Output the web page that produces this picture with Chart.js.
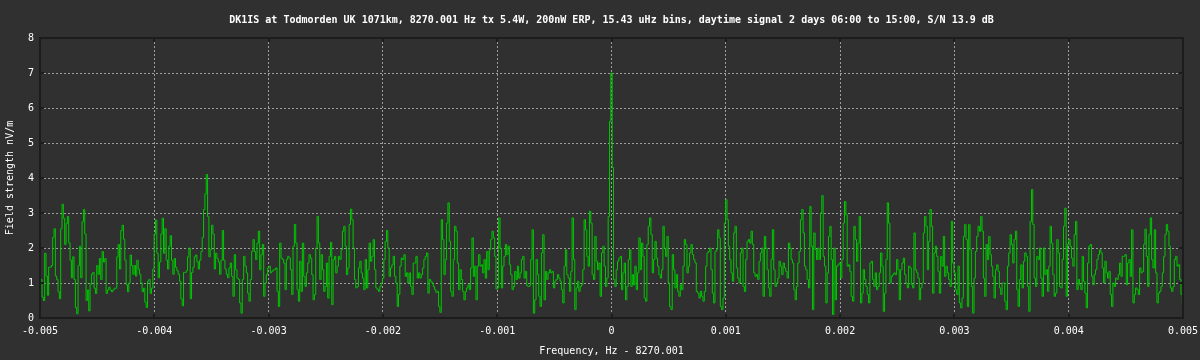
<!DOCTYPE html>
<html>
<head>
<meta charset="utf-8">
<style>
html,body{margin:0;padding:0;background:#303030;}
#wrap{width:1200px;height:360px;}
</style>
<script src="https://cdn.jsdelivr.net/npm/chart.js@4/dist/chart.umd.min.js"></script>
</head>
<body>
<div id="wrap"><canvas id="c" width="1200" height="360"></canvas></div>
<script>
const titleText = "DK1IS at Todmorden UK 1071km, 8270.001 Hz tx 5.4W, 200nW ERP, 15.43 uHz bins, daytime signal 2 days 06:00 to 15:00, S/N 13.9 dB";
const xAxisTitle = "Frequency, Hz - 8270.001";
const yAxisTitle = "Field strength nV/m";

const xTicks = [-0.005,-0.004,-0.003,-0.002,-0.001,0,0.001,0.002,0.003,0.004,0.005];
const xTickLabels = ["-0.005","-0.004","-0.003","-0.002","-0.001","0","0.001","0.002","0.003","0.004","0.005"];
const yTicks = [0,1,2,3,4,5,6,7,8];
const yTickLabels = ["0","1","2","3","4","5","6","7","8"];

const freqStart = -0.005;
const freqEnd = 0.005;

// field strength, nV/m, read left to right across the band
const fieldSeg1 = [
1.0,1.1,0.6,0.5,1.85,1.2,0.65,1.45,1.45,1.5,
2.3,2.55,1.2,1.1,0.75,0.55,2.55,3.25,2.85,2.1,
2.7,2.9,2.15,1.65,1.15,1.75,1.1,0.3,0.12,1.5,
2.05,1.15,2.75,3.1,2.4,0.5,0.8,0.2,0.95,1.25,
1.3,0.85,0.7,1.5,1.25,1.7,1.1,1.9,1.6,1.7,
0.7,0.8,0.88,0.8,0.75,0.8,0.85,0.85,1.75,2.1,
1.4,2.5,2.65,2.25,1.65,0.95,0.75,1.0,1.8,1.5,
1.25,1.5,1.2,1.65,1.4,1.25,1.0,0.75,0.85,0.45,
0.3,1.05,1.1,0.7,0.85,1.4,2.4,2.8,1.85,1.15,
1.6,2.4,2.85,1.85,2.55,1.65,1.4,2.05,2.35,1.65,
1.25,1.7,1.45,1.35,1.25,1.05,0.55,0.35,1.3,1.3,
1.35,1.75,2.0,0.55,1.3,1.45,1.75,1.8,1.6,1.4,
1.65,1.9,2.3,3.1,3.55,4.1,2.9,1.75,1.95,2.65,
2.4,1.4,1.85,1.7,1.6,1.25,1.65,2.5,1.65,1.4,
1.25,1.15];
const fieldSeg2 = [
1.43,1.57,1.19,0.62,1.81,1.38,1.14,1.1,0.43,0.14,
1.1,1.76,1.48,1.29,0.71,0.48,1.1,1.9,2.24,1.9,
1.67,2.14,2.48,1.38,1.81,2.1,0.62,1.0,1.24,1.43,
1.48,1.29,1.33,1.38,1.38,1.43,0.76,0.33,2.14,1.71,
1.67,1.57,0.81,1.67,1.76,1.71,1.38,0.67,2.05,2.67,
2.14,0.81,0.48,1.62,0.76,2.14,1.19,0.9,1.29,1.57,
1.81,1.71,1.24,0.52,0.67,2.0,2.9,2.14,1.1,1.81,
1.38,0.76,0.9,1.57,0.57,1.76,2.16,0.38,1.67,1.76,
1.29,1.48,1.76,1.67,1.95,2.48,2.62,2.05,1.24,1.43,
2.67,3.11,2.81,2.0,1.1,0.86,0.9,1.43,1.62,1.29,
1.14,0.81,1.67,0.86,1.38,2.14,1.62,1.76,2.24,1.38,
0.86,0.81,0.76,0.9,1.0,1.14,1.67,2.19,2.5,2.0,
1.19,1.43,1.52,1.76,1.19,1.0,0.33,0.67,1.48,1.71,
1.67,1.81,1.19,1.29,1.0,1.29,0.9,0.67,1.57,1.57,
1.76,1.14];
const fieldSeg3 = [
1.29,1.14,1.24,1.43,1.67,1.76,1.86,0.71,1.1,1.05,
1.0,0.9,0.81,0.73,0.76,0.33,0.16,2.81,2.24,1.24,
1.67,2.71,3.29,2.19,0.76,0.62,1.67,2.62,2.48,1.57,
0.81,1.38,1.1,0.76,0.52,0.76,0.86,0.95,0.81,1.43,
2.29,1.19,1.48,0.52,1.48,1.81,1.48,1.52,1.29,1.67,
1.14,1.9,1.38,1.95,2.24,2.48,2.29,1.76,0.83,0.86,
2.86,2.0,0.86,1.48,1.76,2.1,1.81,2.05,1.52,1.24,
0.81,0.9,1.33,1.1,1.48,1.14,1.29,1.67,1.76,1.14,
1.33,0.92,0.9,0.92,1.67,2.52,0.14,0.52,1.67,1.24,
0.62,0.33,1.86,2.38,0.52,1.33,1.1,1.29,1.38,1.29,
1.33,0.86,1.05,1.1,1.24,1.14,1.05,0.81,0.43,1.48,
1.95,1.24,1.14,0.76,1.33,2.86,1.67,0.24,0.86,1.05,
0.76,0.9,0.95,1.38,2.81,2.52,1.76,1.48,3.05,2.71,
1.24,1.1,2.33,1.62,1.38,1.57,0.62,1.86,2.05,1.48,
0.9,1.14];
const fieldSeg4 = [
2.9,5.62,7.0,4.3,1.1,0.9,1.38,1.62,1.71,1.76,
0.81,1.29,1.57,0.52,0.9,1.67,1.95,0.9,1.24,0.95,
1.48,0.81,1.29,2.29,1.38,2.14,1.76,0.57,0.48,2.1,
2.62,2.86,2.38,1.29,1.67,2.19,1.71,1.48,1.24,1.14,
1.38,2.62,2.0,1.76,2.33,1.0,0.33,0.24,1.81,1.38,
0.86,1.24,0.76,0.62,0.95,0.81,1.48,2.24,2.1,1.29,
1.48,1.86,2.1,1.81,1.67,1.57,0.76,0.71,0.57,0.76,
0.62,0.48,0.76,1.48,1.86,1.9,2.0,1.38,0.71,0.43,
1.9,1.95,2.52,2.29,0.33,0.24,0.57,2.71,3.38,2.81,
2.05,1.67,1.29,1.05,2.43,2.62,1.43,1.14,1.0,1.86,
2.0,0.9,0.76,1.67,2.19,2.24,2.14,2.48,2.1,1.29,
1.19,1.24,1.1,1.62,1.86,2.0,0.62,2.33,2.0,1.38,
0.86,0.62,1.67,2.52,1.38,0.9,1.0,1.14,1.62,1.48,
1.24,1.57,1.43,1.33,1.14,2.14,2.0,1.67,1.57,0.81,
0.52,0.9];
const fieldSeg5 = [
1.57,1.9,2.81,3.1,2.43,1.48,1.38,1.1,0.86,3.19,
2.05,0.24,2.43,1.95,1.67,2.0,1.67,3.0,3.5,1.76,
1.48,0.43,1.29,2.33,2.62,1.67,0.1,2.0,0.52,1.48,
1.52,1.57,1.14,1.67,2.71,3.33,2.95,1.48,1.52,1.33,
0.62,0.48,2.62,2.24,1.62,2.14,2.9,0.43,0.71,1.38,
1.1,0.9,0.67,0.43,1.57,1.62,1.1,0.9,1.29,0.81,
0.9,1.29,1.86,1.48,0.19,0.71,1.67,3.29,2.71,1.0,
1.19,1.24,1.29,1.24,1.67,1.38,0.52,1.38,1.57,1.71,
1.24,1.0,0.86,1.48,1.43,0.95,0.86,2.43,1.38,1.29,
1.14,0.52,0.86,1.0,2.43,2.9,2.62,1.38,2.19,3.1,
2.62,0.71,1.86,2.05,1.76,1.33,0.71,1.76,1.48,2.33,
1.19,1.48,1.29,1.1,0.9,2.76,1.57,1.29,0.81,0.67,
1.48,0.43,0.29,0.57,2.33,2.67,2.24,0.33,2.67,1.95,
0.9,0.14,1.14,1.9,2.33,2.62,2.48,2.9,2.48,1.14,
0.62,2.1,1.67];
const fieldSeg6 = [
2.33,1.81,1.48,1.19,0.57,1.38,1.52,1.33,0.86,0.67,
1.0,1.0,0.48,0.24,1.48,1.86,2.38,2.1,1.57,2.24,
2.48,0.81,0.33,1.1,1.52,0.86,1.62,1.86,1.76,0.9,
0.19,2.76,3.67,2.67,1.14,0.9,1.76,1.67,2.0,1.14,
0.62,2.0,1.24,1.38,0.76,1.48,2.62,2.14,1.24,0.62,
0.71,2.24,1.86,0.9,0.86,1.67,2.62,3.14,0.62,2.1,
2.24,2.05,1.71,1.48,2.38,2.76,0.81,1.1,0.95,0.81,
1.76,1.05,0.71,0.29,1.57,2.05,2.1,1.19,0.95,1.24,
1.38,1.67,1.81,1.95,1.86,1.43,1.0,1.62,1.29,1.14,
1.33,0.67,0.33,1.0,0.9,1.14,1.1,1.24,1.57,1.19,
1.76,1.76,1.81,0.95,1.57,1.67,1.19,2.52,0.43,0.67,
0.86,0.81,0.67,1.43,1.29,1.33,2.1,2.54,1.76,0.9,
2.38,2.86,1.67,1.43,2.52,1.29,0.43,0.71,0.76,0.9,
1.29,1.76,2.38,2.67,2.48,2.05,0.86,0.76,0.9,1.67,
1.76,1.48,1.52,1.1,0.67,0.43];

const fieldStrength = [].concat(fieldSeg1, fieldSeg2, fieldSeg3, fieldSeg4, fieldSeg5, fieldSeg6);
const freqStep = (freqEnd - freqStart) / (fieldStrength.length - 1);
const points = fieldStrength.map((v, i) => ({x: freqStart + i * freqStep, y: v}));

const FONT = {family: "'DejaVu Sans Mono', 'Liberation Mono', monospace", size: 10};
const TEXT = '#ffffff';
const GRID = '#9e9e9e';
const FRAME = '#1c1c1c';

const bgPlugin = {
  id: 'bg',
  beforeDraw(chart) {
    const ctx = chart.ctx;
    ctx.save();
    ctx.fillStyle = '#303030';
    ctx.fillRect(0, 0, chart.width, chart.height);
    ctx.restore();
  }
};
const framePlugin = {
  id: 'frame',
  afterDraw(chart) {
    const {ctx, chartArea: a, scales} = chart;
    ctx.save();
    ctx.strokeStyle = FRAME;
    ctx.lineWidth = 2;
    ctx.beginPath();
    xTicks.forEach(v => {
      const px = Math.round(scales.x.getPixelForValue(v));
      ctx.moveTo(px, a.bottom); ctx.lineTo(px, a.bottom - 4);
      ctx.moveTo(px, a.top); ctx.lineTo(px, a.top + 4);
    });
    yTicks.forEach(v => {
      const py = Math.round(scales.y.getPixelForValue(v));
      ctx.moveTo(a.left, py); ctx.lineTo(a.left + 4, py);
      ctx.moveTo(a.right, py); ctx.lineTo(a.right - 4, py);
    });
    ctx.stroke();
    ctx.strokeRect(Math.round(a.left), Math.round(a.top), Math.round(a.right - a.left), Math.round(a.bottom - a.top));
    ctx.restore();
  }
};

new Chart(document.getElementById('c'), {
  type: 'line',
  data: {
    datasets: [{
      data: points,
      borderColor: '#00c800',
      borderWidth: 1,
      pointRadius: 0,
      stepped: 'middle',
      fill: false
    }]
  },
  options: {
    responsive: false,
    animation: false,
    devicePixelRatio: 1,
    layout: {padding: {left: 0, right: 17, top: 0, bottom: 0}},
    plugins: {
      legend: {display: false},
      tooltip: {enabled: false},
      title: {
        display: true, text: titleText, color: TEXT, font: FONT,
        padding: {top: 14, bottom: 12}, fullSize: false
      }
    },
    scales: {
      x: {
        type: 'linear', min: freqStart, max: freqEnd, z: 1,
        afterBuildTicks: s => { s.ticks = xTicks.map(v => ({value: v})); },
        afterFit: s => { s.height = 42; s.paddingLeft = 0; s.paddingRight = 0; },
        ticks: {color: TEXT, font: FONT, padding: 7, maxRotation: 0, autoSkip: false,
                callback: (v, i) => xTickLabels[i]},
        grid: {color: GRID, lineWidth: 1, drawTicks: false},
        border: {display: false, dash: [2, 2]},
        title: {display: true, text: xAxisTitle, color: TEXT, font: FONT, padding: {top: 0, bottom: 3}}
      },
      y: {
        min: 0, max: 8, z: 1,
        afterBuildTicks: s => { s.ticks = yTicks.map(v => ({value: v})); },
        afterFit: s => { s.width = 40; s.paddingTop = 0; s.paddingBottom = 0; },
        ticks: {color: TEXT, font: FONT, padding: 6, autoSkip: false,
                callback: (v, i) => yTickLabels[i]},
        grid: {color: GRID, lineWidth: 1, drawTicks: false},
        border: {display: false, dash: [2, 2]},
        title: {display: true, text: yAxisTitle, color: TEXT, font: FONT, padding: {top: 4, bottom: 0}}
      }
    }
  },
  plugins: [bgPlugin, framePlugin]
});
</script>
</body>
</html>
